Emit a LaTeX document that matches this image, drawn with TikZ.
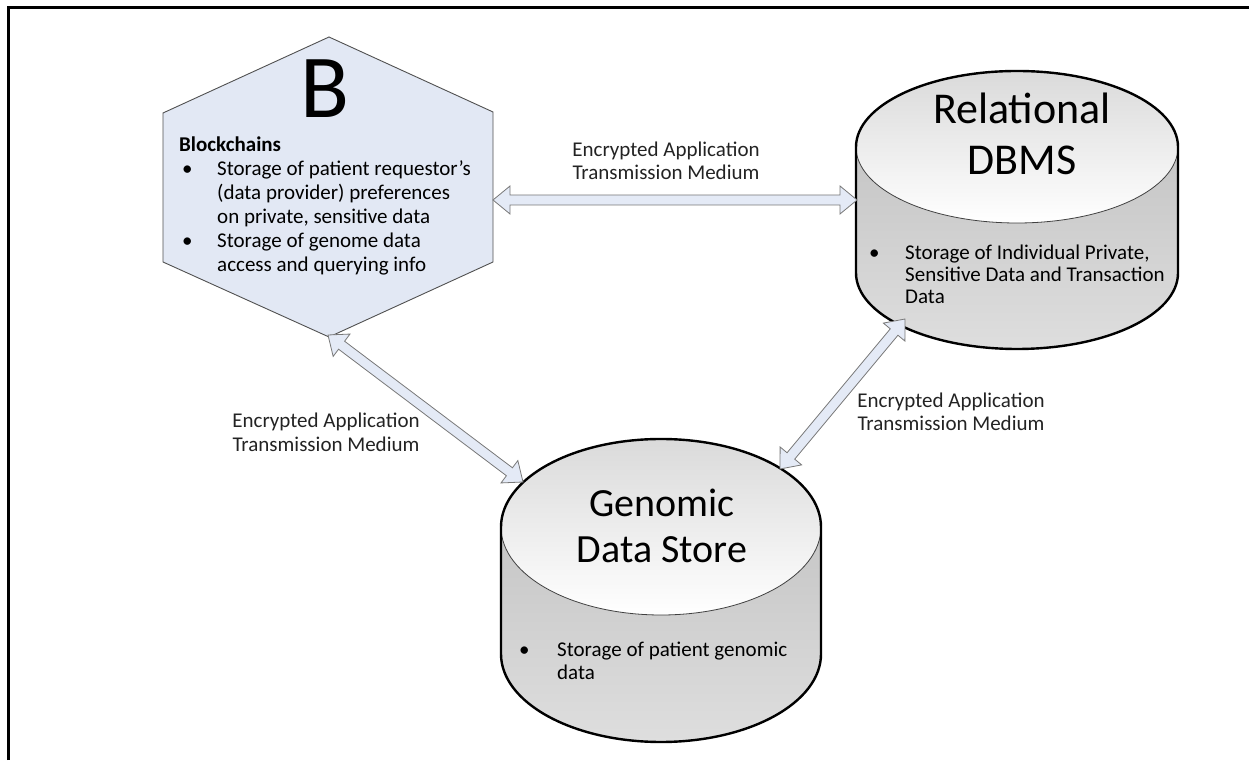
\documentclass[tikz,border=0pt]{standalone}
\usepackage{fontspec}
\setmainfont{Carlito}
\usetikzlibrary{calc}

\definecolor{hexfill}{RGB}{226,232,244}
\definecolor{hexline}{RGB}{80,80,80}
\definecolor{pipefill}{RGB}{228,234,246}
\definecolor{pipeline}{RGB}{120,120,120}
\definecolor{drumtop}{RGB}{218,218,218}
\definecolor{drumbodytop}{RGB}{188,188,188}
\definecolor{drumbodybot}{RGB}{222,222,222}
\definecolor{ink}{RGB}{35,35,35}

% font size in pt with a given line distance
\newcommand\fsz[2]{\fontsize{#1pt}{#2pt}\selectfont}

% two-headed block arrow between two named points
\newcommand\wideway[2]{%
  \coordinate (ww-a) at ($(#1)!17pt!(#2)$);
  \coordinate (ww-b) at ($(#2)!17pt!(#1)$);
  \draw[xfer] (#1)
    -- ($(ww-a)!14pt!90:(#2)$)
    -- ($(ww-a)!5pt!90:(#2)$)
    -- ($(ww-b)!5pt!-90:(#1)$)
    -- ($(ww-b)!14pt!-90:(#1)$)
    -- (#2)
    -- ($(ww-b)!14pt!90:(#1)$)
    -- ($(ww-b)!5pt!90:(#1)$)
    -- ($(ww-a)!5pt!-90:(#2)$)
    -- ($(ww-a)!14pt!-90:(#2)$)
    -- cycle;
}

% database drum: centre x, top-ellipse centre y, bottom-ellipse centre y, x radius, y radius
\newcommand\drum[5]{%
  \path[top color=drumbodytop, bottom color=drumbodybot]
    (#1-#4,#2) -- (#1-#4,#3)
    arc[start angle=180, end angle=360, x radius=#4pt, y radius=#5pt]
    -- (#1+#4,#2)
    arc[start angle=0, end angle=180, x radius=#4pt, y radius=#5pt] -- cycle;
  \path[top color=drumtop, bottom color=white]
    (#1,#2) ellipse[x radius=#4pt, y radius=#5pt];
  \draw[line width=0.8pt, black!75]
    (#1-#4,#2) arc[start angle=180, end angle=360, x radius=#4pt, y radius=#5pt];
  \draw[line width=2.4pt, black]
    (#1-#4,#2) -- (#1-#4,#3)
    arc[start angle=180, end angle=360, x radius=#4pt, y radius=#5pt]
    -- (#1+#4,#2)
    arc[start angle=0, end angle=180, x radius=#4pt, y radius=#5pt] -- cycle;
}

\tikzset{
  xfer/.style={fill=pipefill, draw=pipeline, line width=0.8pt, line join=miter},
  hexbox/.style={fill=hexfill, draw=hexline, line width=0.9pt},
  label/.style={inner sep=0pt, text=ink, font=\fsz{21}{23}},
  title/.style={inner sep=0pt, text=black},
}

\begin{document}
\begin{tikzpicture}[x=1pt, y=1pt]
\useasboundingbox (0,0) rectangle (1249,760);

% frame
\draw[line width=3.4pt] (8.5,0) -- (8.5,752.5) -- (1249,752.5);

% blockchain hexagon
\coordinate (bc) at (328,573);
\draw[hexbox] (329,723) -- (493,648) -- (493,498) -- (329,423)
  -- (163,498) -- (163,647) -- cycle;
\node[title, anchor=base, font=\fsz{90}{90}] (bcB) at (325,642) {B};
\node[label, anchor=base west, text=black] (bcText) at (179,608)
  {\parbox[t]{320pt}{\fsz{21}{24}\textbf{Blockchains}\\
   \hspace*{3pt}\makebox[35pt][l]{•}Storage of patient requestor’s\\
   \hspace*{38pt}(data provider) preferences\\
   \hspace*{38pt}on private, sensitive data\\
   \hspace*{3pt}\makebox[35pt][l]{•}Storage of genome data\\
   \hspace*{38pt}access and querying info}};

% relational database
\drum{1017}{613}{487}{161}{76}
\coordinate (rdb) at (1017,550);
\node[title, anchor=base, font=\fsz{44}{51}] (rdbTitle) at (1022,636)
  {\parbox[t]{300pt}{\centering Relational\\DBMS}};
\node[label, anchor=base west, text=black] (rdbText) at (869,500)
  {\parbox[t]{320pt}{\fsz{21}{22}\makebox[36pt][l]{•}Storage of Individual Private,\\
   \hspace*{36pt}Sensitive Data and Transaction\\
   \hspace*{36pt}Data}};

% genomic data store
\drum{661}{233}{106}{160}{88}
\coordinate (gds) at (661,170);
\node[title, anchor=base, font=\fsz{40}{46}] (gdsTitle) at (662,243)
  {\parbox[t]{300pt}{\centering Genomic\\Data Store}};
\node[label, anchor=base west, text=black] (gdsText) at (519,103)
  {\parbox[t]{320pt}{\fsz{21}{23}\makebox[38pt][l]{•}Storage of patient genomic\\
   \hspace*{38pt}data}};

% connector ends
\coordinate (bc-e) at (493,560);
\coordinate (rdb-w) at (857,560);
\coordinate (bc-s) at (328,425);
\coordinate (gds-nw) at (523,278);
\coordinate (rdb-sw) at (905,441);
\coordinate (gds-ne) at (780,291);

% transmission links
\wideway{bc-e}{rdb-w}
\wideway{bc-s}{gds-nw}
\wideway{rdb-sw}{gds-ne}

\node[label, anchor=base] (topLink) at (666,603)
  {\parbox[t]{240pt}{\centering Encrypted Application\\Transmission Medium}};
\node[label, anchor=base] (leftLink) at (326,332)
  {\parbox[t]{240pt}{\centering\fsz{21}{24}Encrypted Application\\Transmission Medium}};
\node[label, anchor=base] (rightLink) at (951,352)
  {\parbox[t]{240pt}{\centering Encrypted Application\\Transmission Medium}};
\end{tikzpicture}
\end{document}
